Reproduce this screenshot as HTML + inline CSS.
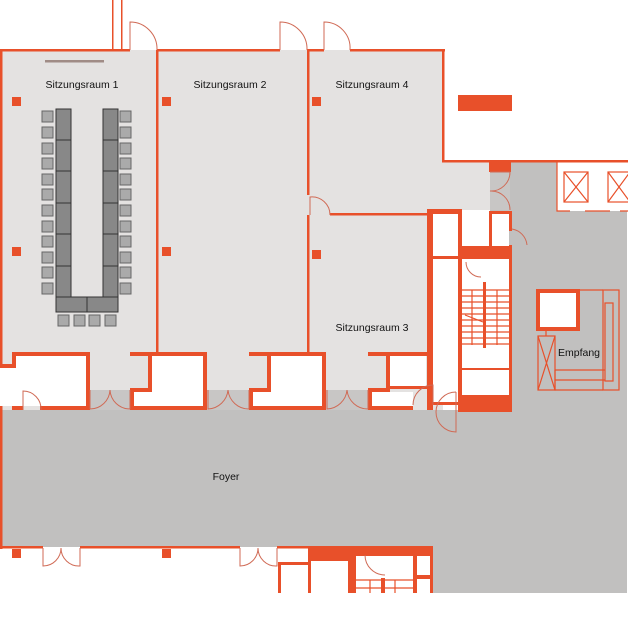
<!DOCTYPE html>
<html><head><meta charset="utf-8"><style>
html,body{margin:0;padding:0;background:#fff}
svg{display:block}
text{font-family:"Liberation Sans",sans-serif;font-size:10.5px;fill:#111}
</style></head><body>
<svg width="628" height="640" viewBox="0 0 628 640" xmlns="http://www.w3.org/2000/svg">
<rect width="628" height="640" fill="#fff"/>
<rect x="0" y="50" width="443" height="360" fill="#e4e2e1"/>
<rect x="443" y="160" width="47" height="50" fill="#e4e2e1"/>
<rect x="490" y="160" width="137" height="433" fill="#c1c0bf"/>
<rect x="0" y="410" width="490" height="137" fill="#c1c0bf"/>
<rect x="433" y="410" width="57" height="183" fill="#c1c0bf"/>
<rect x="0" y="548" width="433" height="45" fill="#fff"/>
<rect x="557" y="161" width="70" height="50" fill="#fff"/>
<g fill="#c8c6c5"><rect x="90" y="390" width="40" height="20"/><rect x="207" y="390" width="42" height="20"/><rect x="326" y="390" width="42" height="20"/><rect x="490" y="172" width="20" height="38"/></g>

<g fill="#e8502a">
<rect x="0" y="49" width="130" height="2.5"/><rect x="157" y="49" width="123" height="2.5"/><rect x="307" y="49" width="17" height="2.5"/><rect x="350" y="49" width="95" height="2.5"/>
<rect x="112" y="0" width="1.5" height="50"/><rect x="121" y="0" width="1.5" height="50"/>
<rect x="0" y="49" width="2.5" height="500"/>
<rect x="156" y="50" width="2.5" height="302"/><rect x="307" y="50" width="2.5" height="145"/><rect x="307" y="215" width="2.5" height="137"/>
<rect x="442" y="50" width="2.5" height="112"/><rect x="442" y="160" width="186" height="2.5"/>
<rect x="330" y="213" width="100" height="2.5"/>
<rect x="458" y="95" width="54" height="16"/>
<rect x="489" y="161" width="22" height="11"/>
<rect x="12" y="97" width="9" height="9"/><rect x="162" y="97" width="9" height="9"/><rect x="312" y="97" width="9" height="9"/>
<rect x="12" y="247" width="9" height="9"/><rect x="162" y="247" width="9" height="9"/><rect x="312" y="250" width="9" height="9"/>
<rect x="12" y="400" width="9" height="10"/><rect x="162" y="400" width="9" height="10"/><rect x="312" y="400" width="9" height="10"/>
<rect x="12" y="549" width="9" height="9"/><rect x="162" y="549" width="9" height="9"/>
<rect x="12" y="352" width="78" height="4"/><rect x="12" y="352" width="4" height="16"/><rect x="0" y="364" width="16" height="4"/><rect x="86" y="352" width="4" height="58"/><rect x="12" y="406" width="11" height="4"/><rect x="40" y="406" width="50" height="4"/>
<rect x="130" y="352" width="77" height="4"/><rect x="148" y="352" width="4" height="40"/><rect x="130" y="388" width="22" height="4"/><rect x="130" y="388" width="4" height="22"/><rect x="203" y="352" width="4" height="58"/><rect x="130" y="406" width="77" height="4"/>
<rect x="249" y="352" width="77" height="4"/><rect x="267" y="352" width="4" height="40"/><rect x="249" y="388" width="22" height="4"/><rect x="249" y="388" width="4" height="22"/><rect x="322" y="352" width="4" height="58"/><rect x="249" y="406" width="77" height="4"/>
<rect x="368" y="352" width="62" height="4"/><rect x="386" y="352" width="4" height="40"/><rect x="368" y="388" width="22" height="4"/><rect x="368" y="388" width="4" height="22"/><rect x="368" y="406" width="45" height="4"/><rect x="390" y="386" width="38" height="3"/><rect x="389" y="355" width="3" height="32"/>
<rect x="427" y="209" width="35" height="5"/><rect x="427" y="209" width="6" height="201"/><rect x="458" y="209" width="4" height="203"/>
<rect x="490" y="211" width="21" height="3"/><rect x="489" y="211" width="3" height="37"/><rect x="509" y="211" width="3" height="20"/><rect x="509" y="245" width="3" height="167"/>
<rect x="433" y="256" width="79" height="3"/><rect x="458" y="246" width="54" height="13"/>
<rect x="458" y="395" width="54" height="17"/><rect x="433" y="402" width="25" height="3"/>
<rect x="483" y="282" width="3" height="66"/>
<rect x="462" y="368" width="48" height="2"/>
<rect x="0" y="546" width="43" height="2.5"/><rect x="80" y="546" width="160" height="2.5"/><rect x="277" y="546" width="31" height="2.5"/>
<rect x="308" y="546" width="125" height="10"/><rect x="308" y="556" width="40" height="5"/><rect x="348" y="556" width="8" height="37"/><rect x="413" y="556" width="4" height="37"/><rect x="430" y="556" width="3" height="37"/><rect x="417" y="575" width="13" height="4"/>
<rect x="278" y="562" width="30" height="3"/><rect x="278" y="562" width="3" height="31"/><rect x="308" y="561" width="3" height="32"/>
<rect x="381" y="578" width="4" height="15"/>
</g>
<g fill="#fff"><rect x="433" y="214" width="25" height="42"/><rect x="462" y="228" width="27" height="18"/><rect x="492" y="214" width="17" height="32"/><rect x="433" y="259" width="25" height="143"/><rect x="462" y="259" width="47" height="136"/>
<rect x="16" y="356" width="70" height="50"/><rect x="0" y="368" width="16" height="38"/><rect x="152" y="356" width="51" height="50"/><rect x="134" y="392" width="18" height="14"/><rect x="271" y="356" width="51" height="50"/><rect x="253" y="392" width="18" height="14"/><rect x="390" y="356" width="36" height="30"/><rect x="372" y="392" width="41" height="14"/><rect x="540" y="293" width="36" height="34"/></g>
<g fill="#e8502a"><rect x="483" y="282" width="3" height="66"/><rect x="462" y="368" width="48" height="2"/></g>
<rect x="538" y="291" width="40" height="38" fill="none" stroke="#e8502a" stroke-width="4"/>
<g fill="none" stroke="#e8502a" stroke-width="1.2">
<path d="M462 290H510M462 296H510M462 302H510M462 308H510M462 314H510M462 320H510M462 326H510M462 332H510M462 338H510M462 344H510"/>
<path d="M472 290V345M497 290V345M465 315L483 322"/>
<path d="M356 580H413M356 588H413M370 580V593M395 580V593"/>
<rect x="603" y="290" width="16" height="100"/><rect x="605" y="303" width="8" height="78"/><path d="M578 290H603M555 370H605M555 380H605M555 370V390H603"/>
<rect x="538" y="336" width="17" height="54"/><path d="M538 336L555 390M555 336L538 390M546 329V336"/>
<rect x="564" y="172" width="24" height="30"/><path d="M564 172L588 202M588 172L564 202"/>
<rect x="608" y="172" width="22" height="30"/><path d="M608 172L630 202M630 172L608 202"/>
<path d="M557 161V211H570M585 211H610M620 211H628"/>
</g>
<g fill="none" stroke="#d06a55" stroke-width="1">
<path d="M130 50V22A27 27 0 0 1 157 50"/><path d="M280 50V22A27 27 0 0 1 307 50"/><path d="M324 50V22A26 26 0 0 1 350 50"/>
<path d="M310 215V197A18 18 0 0 1 330 215"/>
<path d="M23 410V391A18 18 0 0 1 41 410"/>
<path d="M90 390V409A20 20 0 0 0 110 390A20 20 0 0 0 130 409V390"/>
<path d="M208 390V409A21 21 0 0 0 228 390A21 21 0 0 0 249 409V390"/>
<path d="M327 390V409A21 21 0 0 0 347 390A21 21 0 0 0 368 409V390"/>
<path d="M413 405A20 20 0 0 1 433 385V405"/>
<path d="M456 392A20 20 0 0 0 456 432V392"/>
<path d="M490 172H510A19 19 0 0 1 490 191A19 19 0 0 1 510 210"/>
<path d="M512 229A18 18 0 0 1 527 245"/>
<path d="M466 262A15 15 0 0 0 481 277"/>
<path d="M43 548V566A18 18 0 0 0 61 548A18 18 0 0 0 80 566V548"/>
<path d="M240 548V566A18 18 0 0 0 258 548A18 18 0 0 0 277 566V548"/>
<path d="M365 555A20 20 0 0 0 385 575"/>
</g>
<rect x="45" y="60" width="59" height="2.5" fill="#a08c86"/>
<g stroke="#333" stroke-width="1">
<g fill="#888"><rect x="56" y="109" width="15" height="31"/><rect x="56" y="140" width="15" height="31"/><rect x="56" y="171" width="15" height="32"/><rect x="56" y="203" width="15" height="31"/><rect x="56" y="234" width="15" height="32"/><rect x="56" y="266" width="15" height="31"/>
<rect x="103" y="109" width="15" height="31"/><rect x="103" y="140" width="15" height="31"/><rect x="103" y="171" width="15" height="32"/><rect x="103" y="203" width="15" height="31"/><rect x="103" y="234" width="15" height="32"/><rect x="103" y="266" width="15" height="31"/>
<rect x="56" y="297" width="31" height="15"/><rect x="87" y="297" width="31" height="15"/></g>
<g fill="#aaa" stroke="#666">
<rect x="42" y="111" width="11" height="11"/><rect x="42" y="127" width="11" height="11"/><rect x="42" y="143" width="11" height="11"/><rect x="42" y="158" width="11" height="11"/><rect x="42" y="174" width="11" height="11"/><rect x="42" y="189" width="11" height="11"/><rect x="42" y="205" width="11" height="11"/><rect x="42" y="221" width="11" height="11"/><rect x="42" y="236" width="11" height="11"/><rect x="42" y="252" width="11" height="11"/><rect x="42" y="267" width="11" height="11"/><rect x="42" y="283" width="11" height="11"/>
<rect x="120" y="111" width="11" height="11"/><rect x="120" y="127" width="11" height="11"/><rect x="120" y="143" width="11" height="11"/><rect x="120" y="158" width="11" height="11"/><rect x="120" y="174" width="11" height="11"/><rect x="120" y="189" width="11" height="11"/><rect x="120" y="205" width="11" height="11"/><rect x="120" y="221" width="11" height="11"/><rect x="120" y="236" width="11" height="11"/><rect x="120" y="252" width="11" height="11"/><rect x="120" y="267" width="11" height="11"/><rect x="120" y="283" width="11" height="11"/>
<rect x="58" y="315" width="11" height="11"/><rect x="74" y="315" width="11" height="11"/><rect x="89" y="315" width="11" height="11"/><rect x="105" y="315" width="11" height="11"/></g>
</g>
<text x="82" y="88" text-anchor="middle">Sitzungsraum 1</text>
<text x="230" y="88" text-anchor="middle">Sitzungsraum 2</text>
<text x="372" y="88" text-anchor="middle">Sitzungsraum 4</text>
<text x="372" y="331" text-anchor="middle">Sitzungsraum 3</text>
<text x="579" y="356" text-anchor="middle">Empfang</text>
<text x="226" y="480" text-anchor="middle">Foyer</text>
</svg>
</body></html>
